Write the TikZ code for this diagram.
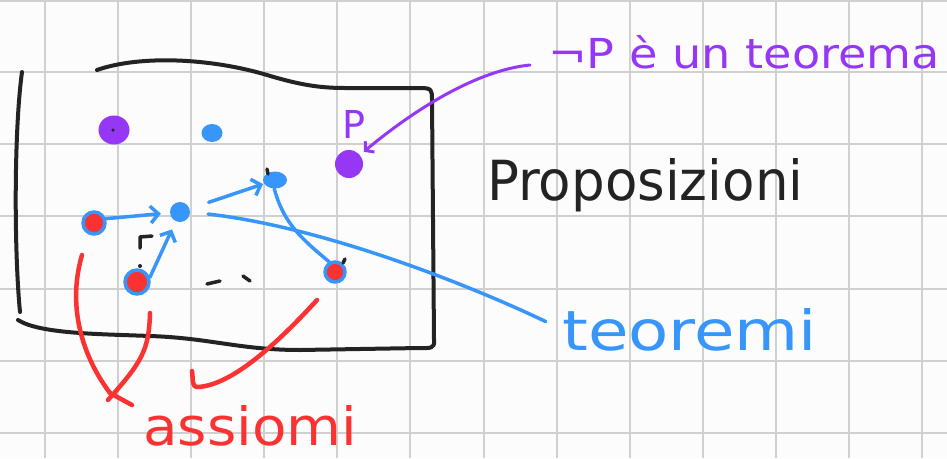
\documentclass[tikz,border=0pt]{standalone}
\usepackage{fontspec}
\setmainfont{DejaVu Sans}
\usetikzlibrary{arrows.meta,shapes.geometric}
\definecolor{hblue}{RGB}{56,150,250}
\definecolor{hpurple}{RGB}{150,55,245}
\definecolor{hred}{RGB}{250,50,50}
\definecolor{gridc}{RGB}{208,208,208}
\definecolor{paper}{RGB}{252,252,252}
\definecolor{ink}{RGB}{35,35,35}
\begin{document}
\begin{tikzpicture}[x=1pt,y=-1pt,
  gridline/.style={draw=gridc,line width=2pt},
  frameline/.style={draw=ink,line width=4pt,line cap=round,line join=round},
  bluestroke/.style={draw=hblue,line width=3.5pt,line cap=round,line join=round},
  redstroke/.style={draw=hred,line width=4.5pt,line cap=round,line join=round},
  purplestroke/.style={draw=hpurple,line width=3pt,line cap=round},
  blacktick/.style={draw=ink,line width=3.5pt,line cap=round,line join=round},
  bluetip/.style={-{Straight Barb[length=8pt,width=17pt]}},
  purpletip/.style={-{Straight Barb[length=6pt,width=14pt]}},
  pdot/.style={ellipse,fill=hpurple,inner sep=0pt},
  bdot/.style={ellipse,fill=hblue,inner sep=0pt},
  axiom/.style={circle,draw=hblue,fill=hred,line width=3.5pt,inner sep=0pt,minimum size=#1},
  label/.style={inner sep=0pt,anchor=base west}
]
\useasboundingbox (0,0) rectangle (947,458);
\fill[paper] (0,0) rectangle (947,458);
% grid
\foreach \k in {0,...,12}{\draw[gridline] ({45.2+73.05*\k},0) -- ({45.2+73.05*\k},458);}
\foreach \yy in {1,72,144.2,216.4,288.6,360.8,432.5}{\draw[gridline] (0,\yy) -- (947,\yy);}

% frame
\draw[frameline] (22,72) .. controls (14,130) and (14,250) .. (20,312);
\draw[frameline] (97,70) .. controls (140,55) and (210,58) .. (267,75)
  .. controls (300,85) and (320,88) .. (345,88) -- (420,88)
  .. controls (432,88) and (432,90) .. (432,100) -- (434,340)
  .. controls (435,349) and (430,348) .. (420,348) -- (300,350)
  .. controls (240,350) and (210,338) .. (150,336)
  .. controls (100,334) and (40,334) .. (18,320);

% dots
\node[pdot,minimum width=31pt,minimum height=29pt] (pA) at (114,130) {};
\node[circle,fill=ink,inner sep=0pt,minimum size=3.5pt] (pAc) at (113,130) {};
\node[bdot,minimum width=21pt,minimum height=18pt] (bB) at (212,133) {};
\node[pdot,minimum width=28pt,minimum height=28pt] (pP) at (349,164) {};
\node[bdot,minimum width=20pt,minimum height=20pt] (t1) at (180,212) {};
\node[bdot,minimum width=24pt,minimum height=17pt] (t2) at (275,180) {};
\node[axiom=22pt] (ax1) at (94,223) {};
\node[axiom=24pt] (ax2) at (137,282) {};
\node[axiom=20pt] (ax3) at (335,272) {};

% labels
\node[label,text=hpurple] (pl) at (342,138) {\resizebox{23pt}{28pt}{P}};
\node[label,text=hpurple] (plabel) at (548,68) {\resizebox{392pt}{33pt}{¬P è un teorema}};
\node[label,text=ink] (prop) at (487,200) {\resizebox{316pt}{42pt}{Proposizioni}};
\node[label,text=hblue] (tlabel) at (562,350) {\resizebox{255pt}{42pt}{teoremi}};
\node[label,text=hred] (alabel) at (143,445) {\resizebox{214pt}{40pt}{assiomi}};

% blue arrows
\draw[bluestroke,bluetip,shorten >=9pt] (ax1.20) to[out=5,in=185] (t1);
\draw[bluestroke,bluetip,shorten >=9pt] (ax2.20) -- (t1);
\draw[bluestroke,bluetip,shorten <=20pt,shorten >=1pt] (t1) -- (t2);
\draw[bluestroke] (t2.-95) to[out=-75,in=140] (ax3.120);
\draw[bluestroke,shorten <=18pt,shorten >=18pt] (t1.east) .. controls (330,228) and (480,290) .. (tlabel.west);

% purple leader
\coordinate (pstart) at (530,65);
\draw[purplestroke,purpletip,shorten >=5pt] (pstart) .. controls (480,70) and (420,105) .. (pP);

% red strokes
\coordinate (r1a) at (82,255);
\coordinate (r2a) at (150,313);
\coordinate (rm) at (110,393);
\coordinate (rt) at (132,405);
\coordinate (r3a) at (317,300);
\coordinate (r3b) at (198,387);
\coordinate (r3c) at (192,371);
\draw[redstroke] (r1a) .. controls (66,310) and (85,360) .. (rm);
\draw[redstroke] (r2a) .. controls (149,350) and (142,362) .. (108,400);
\draw[redstroke] (rm) -- (rt);
\draw[redstroke] (r3a) .. controls (285,335) and (235,385) .. (r3b) to[out=185,in=-80] (r3c);

% black marks
\draw[blacktick] (267,169) -- (268,174);
\draw[blacktick] (140,248) -- (140,237) -- (152,236);
\fill[ink] (140,266) circle (2pt);
\draw[blacktick] (207,284) -- (220,281);
\draw[blacktick] (243,276) -- (250,281);
\draw[blacktick] (345,259) -- (343,263);
\end{tikzpicture}
\end{document}
